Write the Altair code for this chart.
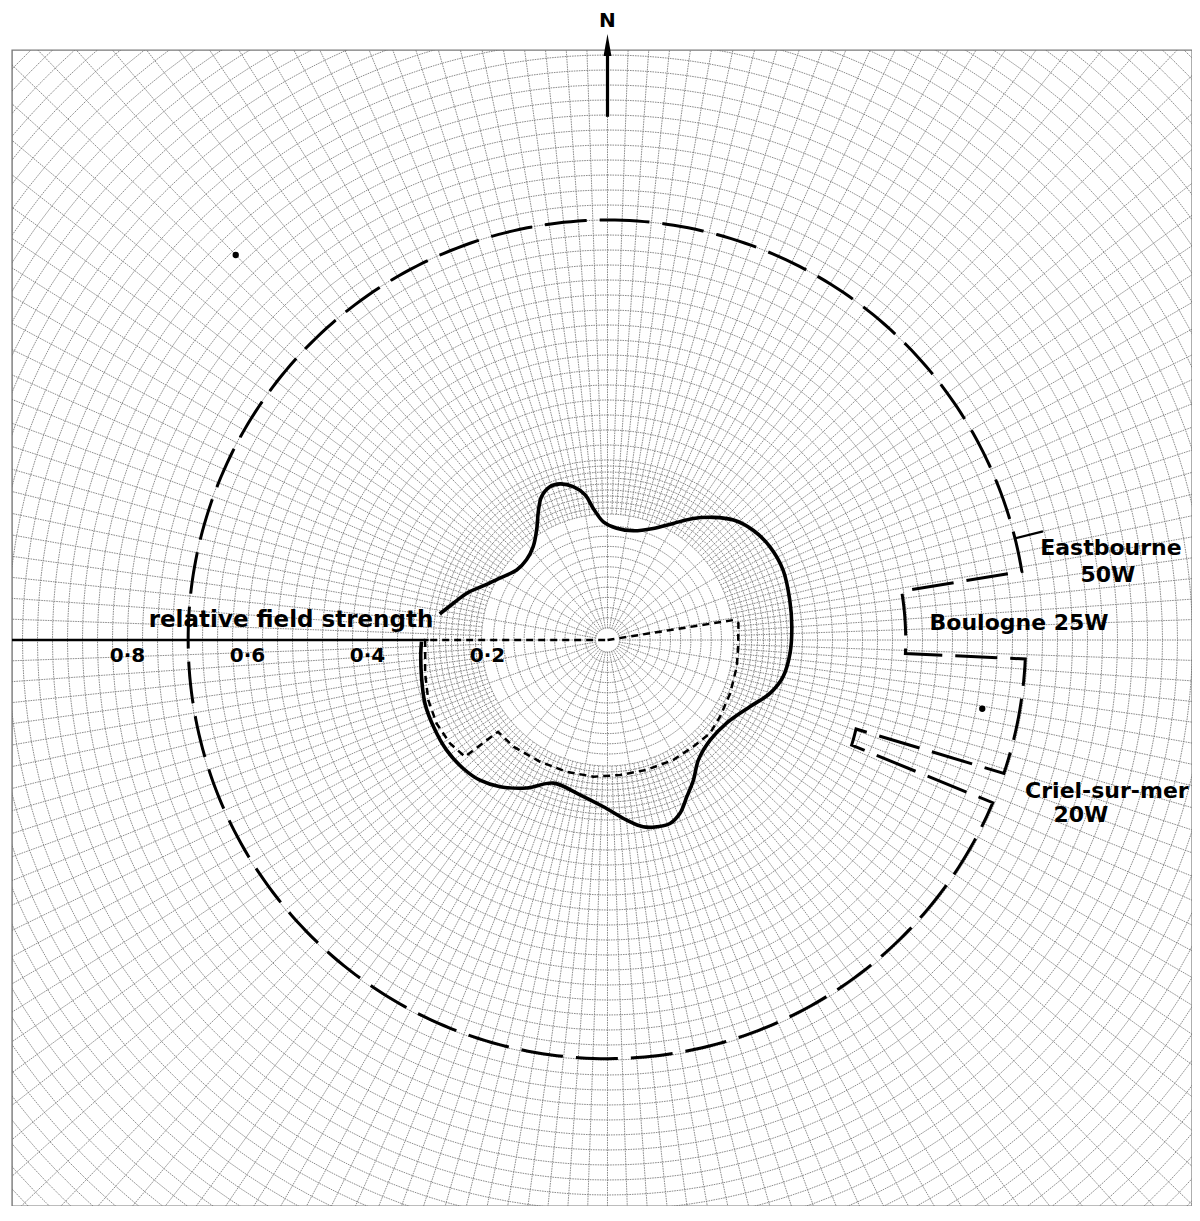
import numpy as np
import pandas as pd
import altair as alt

# ---------------- values ----------------
# bearing in degrees clockwise from North, radius = relative field strength
solid_bearing = [269.5, 265.9, 258.8, 250.9, 243.5, 235.6, 228.3, 222.3, 216.2, 208.6,
                 200.7, 190.1, 181.4, 173.9, 169.2, 165.2, 161.2, 157.3, 153.2, 148.5,
                 142.9, 134.3, 124.9, 115.1, 108.2, 101.8, 94.2, 85.9, 77.6, 68.3,
                 60.1, 53.0, 46.4, 40.8, 35.2, 29.4, 22.3, 13.3, 4.7, 358.0,
                 353.8, 351.2, 347.4, 343.1, 339.4, 335.3, 332.0, 327.2, 321.5, 314.7,
                 307.6, 299.9, 293.5, 288.4, 283.4, 278.8]
solid_strength = [0.310, 0.312, 0.316, 0.322, 0.324, 0.325, 0.322, 0.316, 0.303, 0.281,
                  0.255, 0.262, 0.278, 0.302, 0.317, 0.322, 0.323, 0.313, 0.293, 0.274,
                  0.251, 0.239, 0.242, 0.262, 0.285, 0.299, 0.305, 0.308, 0.311, 0.315,
                  0.312, 0.304, 0.290, 0.270, 0.248, 0.223, 0.201, 0.187, 0.187, 0.197,
                  0.221, 0.245, 0.262, 0.272, 0.273, 0.263, 0.245, 0.218, 0.199, 0.190,
                  0.191, 0.207, 0.226, 0.247, 0.264, 0.283]

dashed_bearing = [270.0, 81.0, 82.7, 92.9, 101.7, 113.5, 124.3, 132.3, 141.2, 151.3,
                  163.2, 174.7, 185.9, 197.2, 209.0, 221.4, 230.0, 230.7, 236.7, 244.0,
                  251.5, 259.7, 267.9, 270.0, 270.0]
dashed_strength = [0.0, 0.212, 0.220, 0.218, 0.220, 0.223, 0.227, 0.231, 0.228, 0.228,
                   0.226, 0.226, 0.229, 0.230, 0.232, 0.237, 0.238, 0.307, 0.314, 0.317,
                   0.315, 0.309, 0.304, 0.304, 0.0]

# protection limit (long dashes) with notches towards the stations
limit_bearing = [0.0, 80.6, 80.6, 92.6, 92.6, 108.6, 109.7, 113.3, 112.9, 360.0]
limit_strength = [0.70, 0.70, 0.497, 0.497, 0.697, 0.697, 0.440, 0.443, 0.697, 0.70]

eastbourne_bearing = [76.0, 76.0]
eastbourne_strength = [0.70, 0.748]

speck_bearing = [316.0, 100.4]
speck_strength = [0.892, 0.635]

axis_values = [0.2, 0.4, 0.6, 0.8]
axis_labels = ["0·2", "0·4", "0·6", "0·8"]
axis_title = "relative field strength"
station_texts = ["Eastbourne", "50W", "Boulogne 25W", "20W"]
criel_text = "Criel-sur-mer"
north_text = "N"

# ---------------- layout ----------------
XD = [-0.9925, 0.97417]
YD = [-0.94333, 0.98333]
W, H = 1180, 1156
FONT = "DejaVu Sans"

xs = alt.Scale(domain=XD, nice=False, zero=False)
ys = alt.Scale(domain=YD, nice=False, zero=False)


def polar(df):
    return alt.Chart(df).transform_calculate(
        x="datum.r*sin(datum.b*PI/180)", y="datum.r*cos(datum.b*PI/180)")


def enc(ch, **kw):
    return ch.encode(x=alt.X("x:Q", scale=xs, axis=None),
                     y=alt.Y("y:Q", scale=ys, axis=None), **kw)


# ---------------- polar graph paper ----------------
rows = []
seg = 0
circle_r = list(np.round(np.arange(0.02, 0.205, 0.017), 4)) + \
    list(np.round(np.arange(0.21, 0.30, 0.01), 4)) + \
    list(np.round(np.arange(0.30, 1.43, 0.025), 4))
angs = np.arange(0, 362, 2.0)
for rr in circle_r:
    for i, a in enumerate(angs):
        rows.append((seg, i, a, rr))
    seg += 1
for a in np.arange(0, 360, 2.0):
    r0 = 0.02 if a % 10 == 0 else 0.21
    rows.append((seg, 0, a, r0))
    rows.append((seg, 1, a, 1.43))
    seg += 1
grid_df = pd.DataFrame(rows, columns=["seg", "i", "b", "r"])

grid = enc(polar(grid_df).mark_line(clip=True, stroke="#6f6f6f", strokeWidth=0.8,
                                     strokeDash=[1.6, 0.9]),
           detail="seg:N", order="i:Q")

# ---------------- west axis line ----------------
axis_df = pd.DataFrame({"b": [270.0, 270.0], "r": [-XD[0], 0.298], "i": [0, 1]})
axis_line = enc(polar(axis_df).mark_line(color="black", strokeWidth=2.4), order="i:Q")

# ---------------- limit line (densify circular arcs) ----------------
lim = []
k = 0
for j in range(len(limit_bearing) - 1):
    b0, b1 = limit_bearing[j], limit_bearing[j + 1]
    r0, r1 = limit_strength[j], limit_strength[j + 1]
    if abs(r1 - r0) < 0.01 and abs(b1 - b0) > 0:
        n = max(2, int(abs(b1 - b0)))
        for t in np.linspace(0, 1, n + 1)[:-1]:
            lim.append((k, b0 + (b1 - b0) * t, r0 + (r1 - r0) * t)); k += 1
    else:
        lim.append((k, b0, r0)); k += 1
lim.append((k, limit_bearing[-1], limit_strength[-1]))
lim_df = pd.DataFrame(lim, columns=["i", "b", "r"])
limit = enc(polar(lim_df).mark_line(color="black", strokeWidth=3.0,
                                     strokeDash=[42, 13]), order="i:Q")

east_df = pd.DataFrame({"b": eastbourne_bearing, "r": eastbourne_strength, "i": [0, 1]})
east_tick = enc(polar(east_df).mark_line(color="black", strokeWidth=2.2), order="i:Q")

# ---------------- patterns ----------------
dash_df = pd.DataFrame({"b": dashed_bearing, "r": dashed_strength,
                        "i": range(len(dashed_bearing))})
dashed = enc(polar(dash_df).mark_line(color="black", strokeWidth=2.5,
                                      strokeDash=[7, 5]), order="i:Q")

solid_df = pd.DataFrame({"b": solid_bearing, "r": solid_strength,
                         "i": range(len(solid_bearing))})
solid = enc(polar(solid_df).mark_line(color="black", strokeWidth=3.6,
                                      interpolate="catmull-rom"), order="i:Q")

speck_df = pd.DataFrame({"b": speck_bearing, "r": speck_strength})
specks = enc(polar(speck_df).mark_point(filled=True, color="black", size=40, opacity=1))

# ---------------- texts ----------------
num_df = pd.DataFrame({"b": [270.0] * 4, "r": axis_values, "t": axis_labels})
nums = alt.Chart(num_df).transform_calculate(
    x="-datum.r", y="-0.0367").mark_text(
    font=FONT, fontWeight="bold", fontSize=20, align="center", baseline="alphabetic",
    color="black")
nums = nums.encode(x=alt.X("x:Q", scale=xs, axis=None), y=alt.Y("y:Q", scale=ys, axis=None),
                   text="t:N")

title_df = pd.DataFrame({"x": [-0.5275], "y": [0.0217], "t": [axis_title]})
title_txt = alt.Chart(title_df).mark_text(
    font=FONT, fontWeight="bold", fontSize=23, align="center", baseline="alphabetic",
    color="black").encode(x=alt.X("x:Q", scale=xs, axis=None),
                          y=alt.Y("y:Q", scale=ys, axis=None), text="t:N")

st_df = pd.DataFrame({"x": [0.839, 0.834, 0.686, 0.789],
                      "y": [0.1417, 0.0967, 0.0167, -0.3033],
                      "t": station_texts})
st_txt = alt.Chart(st_df).mark_text(
    font=FONT, fontWeight="bold", fontSize=22, align="center", baseline="alphabetic",
    color="black").encode(x=alt.X("x:Q", scale=xs, axis=None),
                          y=alt.Y("y:Q", scale=ys, axis=None), text="t:N")

cr_df = pd.DataFrame({"x": [0.696], "y": [-0.2633], "t": [criel_text]})
cr_txt = alt.Chart(cr_df).mark_text(
    font=FONT, fontWeight="bold", fontSize=22, align="left", baseline="alphabetic",
    color="black").encode(x=alt.X("x:Q", scale=xs, axis=None),
                          y=alt.Y("y:Q", scale=ys, axis=None), text="t:N")

# ---------------- north arrow ----------------
n_line_df = pd.DataFrame({"b": [0.0, 0.0], "r": [0.985, 0.872], "i": [0, 1]})
n_line = enc(polar(n_line_df).mark_line(color="black", strokeWidth=3.2), order="i:Q")
n_head_df = pd.DataFrame({"b": [0.0], "r": [0.9917]})
n_head = enc(polar(n_head_df).mark_point(
    shape="M0,-1L0.36,1L-0.36,1Z", size=480, filled=True, color="black", opacity=1))
n_df = pd.DataFrame({"x": [0.0], "y": [1.0217], "t": [north_text]})
n_txt = alt.Chart(n_df).mark_text(
    font=FONT, fontWeight="bold", fontSize=20, align="center", baseline="alphabetic",
    color="black").encode(x=alt.X("x:Q", scale=xs, axis=None),
                          y=alt.Y("y:Q", scale=ys, axis=None), text="t:N")

chart = alt.layer(grid, axis_line, limit, east_tick, dashed, solid, specks,
                  nums, title_txt, st_txt, cr_txt, n_line, n_head, n_txt).properties(
    width=W, height=H,
    padding={"left": 4, "top": 42, "right": 0, "bottom": 0},
    autosize=alt.AutoSizeParams(type="none"),
    background="white",
).configure_view(stroke="#7a7a7a", strokeWidth=1.4)

chart.save("out.html", embed_options={"renderer": "svg", "actions": False})
